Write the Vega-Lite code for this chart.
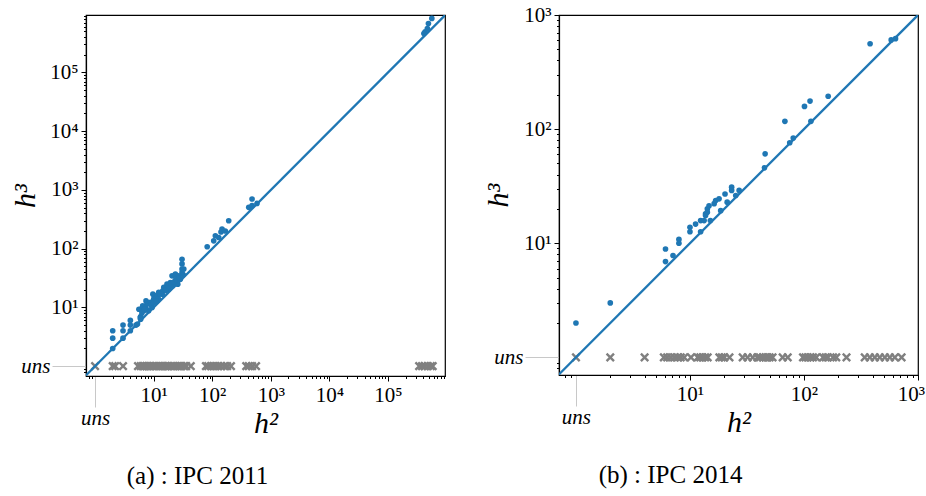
{
  "$schema": "https://vega.github.io/schema/vega-lite/v6.json",
  "background": "white",
  "padding": {"left": 10, "top": 3, "right": 0, "bottom": 0},
  "spacing": 114,
  "bounds": "flush",
  "config": {
    "font": "Liberation Serif",
    "view": {"stroke": "black", "strokeWidth": 1.2},
    "axis": {
      "grid": false,
      "domainColor": "black",
      "domainWidth": 1.2,
      "labelFont": "Liberation Serif",
      "labelFontSize": 21,
      "labelColor": "black",
      "titleFont": "Liberation Serif",
      "titleFontSize": 30,
      "titleFontStyle": "italic",
      "titleFontWeight": "normal",
      "titleColor": "black",
      "labelOverlap": false,
      "labelFlush": false
    },
    "title": {"font": "Liberation Serif", "fontSize": 25, "fontWeight": "normal", "color": "black"}
  },
  "datasets": {
    "a_pts": [
      {"h2": 2, "h3": 2}, {"h2": 2, "h3": 3}, {"h2": 2, "h3": 4}, {"h2": 3, "h3": 3}, {"h2": 3, "h3": 4}, {"h2": 3, "h3": 5},
      {"h2": 4, "h3": 4}, {"h2": 4, "h3": 5}, {"h2": 4, "h3": 6}, {"h2": 5, "h3": 5}, {"h2": 5.3, "h3": 5.2}, {"h2": 6, "h3": 7},
      {"h2": 6, "h3": 6.3}, {"h2": 5.6, "h3": 9.3}, {"h2": 5.9, "h3": 6.7}, {"h2": 6.1, "h3": 9.4}, {"h2": 6.5, "h3": 10.6},
      {"h2": 6.8, "h3": 8.8}, {"h2": 7.2, "h3": 10}, {"h2": 7.4, "h3": 12.9}, {"h2": 7.7, "h3": 11.4}, {"h2": 7.9, "h3": 12.1},
      {"h2": 8.2, "h3": 8.8}, {"h2": 8.8, "h3": 12.2}, {"h2": 9.4, "h3": 10}, {"h2": 9.7, "h3": 16.8}, {"h2": 10, "h3": 13.8},
      {"h2": 10.7, "h3": 15.8}, {"h2": 11, "h3": 14.9}, {"h2": 11.4, "h3": 12.9}, {"h2": 11.7, "h3": 15.8}, {"h2": 12.2, "h3": 18},
      {"h2": 14, "h3": 16.8}, {"h2": 14.3, "h3": 19.2}, {"h2": 14.9, "h3": 21.9}, {"h2": 15.9, "h3": 19.2}, {"h2": 16.9, "h3": 24.9},
      {"h2": 17.4, "h3": 21.9}, {"h2": 18.1, "h3": 20.4}, {"h2": 19.3, "h3": 26.6}, {"h2": 20.6, "h3": 34.5}, {"h2": 21.2, "h3": 23.3},
      {"h2": 23.5, "h3": 36.8}, {"h2": 23.5, "h3": 28.3}, {"h2": 25.8, "h3": 24.9}, {"h2": 26.8, "h3": 34.5}, {"h2": 28.5, "h3": 30.2},
      {"h2": 30.5, "h3": 39.4}, {"h2": 30.5, "h3": 45}, {"h2": 30.5, "h3": 55}, {"h2": 30.5, "h3": 66}, {"h2": 32.7, "h3": 45},
      {"h2": 32, "h3": 36}, {"h2": 8, "h3": 9}, {"h2": 9, "h3": 11}, {"h2": 12, "h3": 14}, {"h2": 13, "h3": 17}, {"h2": 16, "h3": 20},
      {"h2": 18, "h3": 23}, {"h2": 20, "h3": 25}, {"h2": 22, "h3": 27}, {"h2": 24, "h3": 30}, {"h2": 27, "h3": 32}, {"h2": 6.3, "h3": 8},
      {"h2": 7, "h3": 9.5}, {"h2": 10, "h3": 12}, {"h2": 11, "h3": 13},
      {"h2": 82, "h3": 108}, {"h2": 106, "h3": 136}, {"h2": 113, "h3": 166}, {"h2": 129, "h3": 155}, {"h2": 141, "h3": 192},
      {"h2": 147, "h3": 216}, {"h2": 167, "h3": 200}, {"h2": 191, "h3": 299}, {"h2": 420, "h3": 505}, {"h2": 478, "h3": 540},
      {"h2": 478, "h3": 700}, {"h2": 580, "h3": 590},
      {"h2": 430000, "h3": 490000}, {"h2": 410000, "h3": 460000}, {"h2": 470000, "h3": 560000}, {"h2": 490000, "h3": 680000},
      {"h2": 560000, "h3": 830000}
    ],
    "a_uns": [
      {"h2": 1}, {"h2": 2}, {"h2": 2.2}, {"h2": 3}, {"h2": 5.4}, {"h2": 6}, {"h2": 6.5}, {"h2": 7}, {"h2": 7.5}, {"h2": 8},
      {"h2": 8.5}, {"h2": 9}, {"h2": 10}, {"h2": 11}, {"h2": 12}, {"h2": 13}, {"h2": 14}, {"h2": 15}, {"h2": 16}, {"h2": 17},
      {"h2": 18}, {"h2": 20}, {"h2": 22}, {"h2": 24}, {"h2": 26}, {"h2": 28}, {"h2": 30}, {"h2": 33}, {"h2": 36}, {"h2": 43},
      {"h2": 78}, {"h2": 85}, {"h2": 95}, {"h2": 105}, {"h2": 115}, {"h2": 125}, {"h2": 140}, {"h2": 160}, {"h2": 180}, {"h2": 209},
      {"h2": 380}, {"h2": 420}, {"h2": 480}, {"h2": 560},
      {"h2": 340000}, {"h2": 380000}, {"h2": 420000}, {"h2": 480000}, {"h2": 540000}, {"h2": 580000}
    ],
    "b_pts": [
      {"h2": 1, "h3": 2}, {"h2": 2, "h3": 3}, {"h2": 6.1, "h3": 8.9}, {"h2": 6.1, "h3": 6.9}, {"h2": 7.1, "h3": 7.8},
      {"h2": 8, "h3": 10.8}, {"h2": 8, "h3": 10}, {"h2": 10, "h3": 13.8}, {"h2": 10, "h3": 12.6}, {"h2": 11.2, "h3": 14.7},
      {"h2": 12.4, "h3": 15.8}, {"h2": 13.3, "h3": 15.8}, {"h2": 12.4, "h3": 12.6}, {"h2": 13.7, "h3": 18.1}, {"h2": 14.2, "h3": 20},
      {"h2": 15.1, "h3": 15.8}, {"h2": 13.7, "h3": 17.5}, {"h2": 14.2, "h3": 18.7}, {"h2": 14.7, "h3": 21.3}, {"h2": 16.3, "h3": 22.2},
      {"h2": 16.8, "h3": 23.7}, {"h2": 18, "h3": 24.5}, {"h2": 18.6, "h3": 19.3}, {"h2": 20.3, "h3": 27}, {"h2": 21.2, "h3": 22.9},
      {"h2": 23.2, "h3": 31}, {"h2": 23.2, "h3": 29}, {"h2": 25.2, "h3": 26.2}, {"h2": 27, "h3": 29}, {"h2": 45.6, "h3": 60.7},
      {"h2": 45, "h3": 45.8}, {"h2": 68, "h3": 117}, {"h2": 75, "h3": 76}, {"h2": 80.5, "h3": 83.5}, {"h2": 101, "h3": 158},
      {"h2": 113, "h3": 176}, {"h2": 115, "h3": 117}, {"h2": 163, "h3": 194}, {"h2": 380, "h3": 560}, {"h2": 582, "h3": 605},
      {"h2": 635, "h3": 620}
    ],
    "b_uns": [
      {"h2": 1}, {"h2": 2}, {"h2": 4}, {"h2": 5.9}, {"h2": 6.3}, {"h2": 6.8}, {"h2": 7.3}, {"h2": 7.8}, {"h2": 8.3}, {"h2": 8.9},
      {"h2": 10.2}, {"h2": 11.7}, {"h2": 12.3}, {"h2": 12.9}, {"h2": 13.6}, {"h2": 14.3}, {"h2": 18.1}, {"h2": 19}, {"h2": 20},
      {"h2": 22.2}, {"h2": 29}, {"h2": 32}, {"h2": 35.5}, {"h2": 39}, {"h2": 41}, {"h2": 43.6}, {"h2": 46}, {"h2": 48}, {"h2": 50},
      {"h2": 53}, {"h2": 65}, {"h2": 72}, {"h2": 98}, {"h2": 103}, {"h2": 108}, {"h2": 114}, {"h2": 120}, {"h2": 128}, {"h2": 147},
      {"h2": 155}, {"h2": 162}, {"h2": 180}, {"h2": 192}, {"h2": 236}, {"h2": 341}, {"h2": 378}, {"h2": 418}, {"h2": 462},
      {"h2": 512}, {"h2": 566}, {"h2": 626}, {"h2": 718}
    ],
    "a_diag": [{"v": 0.5}, {"v": 2000000}],
    "b_diag": [{"v": 0.5}, {"v": 2000}]
  },
  "hconcat": [
    {
      "width": 359,
      "height": 361,
      "title": {"text": "(a) : IPC 2011", "orient": "bottom", "dx": -68, "offset": 26},
      "layer": [
        {
          "mark": {"type": "rule", "color": "#808080", "strokeWidth": 1.3},
          "encoding": {"x": {"datum": 1, "type": "quantitative"}}
        },
        {
          "mark": {"type": "rule", "color": "#808080", "strokeWidth": 1.3},
          "encoding": {"y": {"datum": 1, "type": "quantitative"}}
        },
        {
          "data": {"name": "a_uns"},
          "mark": {"type": "point", "shape": "M-1,-1L1,1M-1,1L1,-1", "filled": false, "stroke": "#808080", "strokeWidth": 2.4, "size": 55, "opacity": 1},
          "encoding": {"x": {"field": "h2", "type": "quantitative"}, "y": {"datum": 1, "type": "quantitative"}}
        },
        {
          "data": {"name": "a_diag"},
          "mark": {"type": "line", "color": "#1f77b4", "strokeWidth": 2.3, "clip": true},
          "encoding": {"x": {"field": "v", "type": "quantitative"}, "y": {"field": "v", "type": "quantitative"}}
        },
        {
          "data": {"name": "a_pts"},
          "mark": {"type": "circle", "color": "#1f77b4", "size": 32, "opacity": 1},
          "encoding": {
            "x": {
              "field": "h2", "type": "quantitative",
              "scale": {"type": "log", "domain": [0.7, 940000], "nice": false},
              "axis": {
                "title": "h²", "titlePadding": -20,
                "values": [0.8, 0.9, 1, 2, 3, 4, 5, 6, 7, 8, 9, 10, 20, 30, 40, 50, 60, 70, 80, 90, 100, 200, 300, 400, 500, 600, 700, 800, 900, 1000, 2000, 3000, 4000, 5000, 6000, 7000, 8000, 9000, 10000, 20000, 30000, 40000, 50000, 60000, 70000, 80000, 90000, 100000, 200000, 300000, 400000, 500000, 600000, 700000, 800000, 900000],
                "labelExpr": "datum.value == 1 ? 'uns' : (abs(log(datum.value)/LN10 - round(log(datum.value)/LN10)) < 1e-6 ? '10' + ['⁰','¹','²','³','⁴','⁵','⁶'][round(log(datum.value)/LN10)] : '')",
                "labelFontStyle": {"condition": {"test": "datum.value == 1", "value": "italic"}, "value": "normal"},
                "labelPadding": {"condition": {"test": "datum.value == 1", "value": 0}, "value": 3},
                "tickSize": {"condition": [{"test": "datum.value == 1", "value": 31}, {"test": "abs(log(datum.value)/LN10 - round(log(datum.value)/LN10)) < 1e-6", "value": 5}], "value": 2.5},
                "tickColor": {"condition": {"test": "datum.value == 1", "value": "#c8c8c8"}, "value": "black"}
              }
            },
            "y": {
              "field": "h3", "type": "quantitative",
              "scale": {"type": "log", "domain": [0.68, 950000], "nice": false},
              "axis": {
                "title": "h³", "titlePadding": -20,
                "values": [0.8, 0.9, 1, 2, 3, 4, 5, 6, 7, 8, 9, 10, 20, 30, 40, 50, 60, 70, 80, 90, 100, 200, 300, 400, 500, 600, 700, 800, 900, 1000, 2000, 3000, 4000, 5000, 6000, 7000, 8000, 9000, 10000, 20000, 30000, 40000, 50000, 60000, 70000, 80000, 90000, 100000, 200000, 300000, 400000, 500000, 600000, 700000, 800000, 900000],
                "labelExpr": "datum.value == 1 ? 'uns' : (abs(log(datum.value)/LN10 - round(log(datum.value)/LN10)) < 1e-6 ? '10' + ['⁰','¹','²','³','⁴','⁵','⁶'][round(log(datum.value)/LN10)] : '')",
                "labelFontStyle": {"condition": {"test": "datum.value == 1", "value": "italic"}, "value": "normal"},
                "labelPadding": {"condition": {"test": "datum.value == 1", "value": 2}, "value": 3},
                "tickSize": {"condition": [{"test": "datum.value == 1", "value": 34}, {"test": "abs(log(datum.value)/LN10 - round(log(datum.value)/LN10)) < 1e-6", "value": 5}], "value": 2.5},
                "tickColor": {"condition": {"test": "datum.value == 1", "value": "#c8c8c8"}, "value": "black"}
              }
            }
          }
        }
      ]
    },
    {
      "width": 359,
      "height": 360,
      "title": {"text": "(b) : IPC 2014", "orient": "bottom", "dx": -68, "offset": 26},
      "layer": [
        {
          "mark": {"type": "rule", "color": "#808080", "strokeWidth": 1.3},
          "encoding": {"x": {"datum": 1, "type": "quantitative"}}
        },
        {
          "mark": {"type": "rule", "color": "#808080", "strokeWidth": 1.3},
          "encoding": {"y": {"datum": 1, "type": "quantitative"}}
        },
        {
          "data": {"name": "b_uns"},
          "mark": {"type": "point", "shape": "M-1,-1L1,1M-1,1L1,-1", "filled": false, "stroke": "#808080", "strokeWidth": 2.4, "size": 55, "opacity": 1},
          "encoding": {"x": {"field": "h2", "type": "quantitative"}, "y": {"datum": 1, "type": "quantitative"}}
        },
        {
          "data": {"name": "b_diag"},
          "mark": {"type": "line", "color": "#1f77b4", "strokeWidth": 2.3, "clip": true},
          "encoding": {"x": {"field": "v", "type": "quantitative"}, "y": {"field": "v", "type": "quantitative"}}
        },
        {
          "data": {"name": "b_pts"},
          "mark": {"type": "circle", "color": "#1f77b4", "size": 32, "opacity": 1},
          "encoding": {
            "x": {
              "field": "h2", "type": "quantitative",
              "scale": {"type": "log", "domain": [0.71, 1000], "nice": false},
              "axis": {
                "title": "h²", "titlePadding": -20,
                "values": [0.8, 0.9, 1, 2, 3, 4, 5, 6, 7, 8, 9, 10, 20, 30, 40, 50, 60, 70, 80, 90, 100, 200, 300, 400, 500, 600, 700, 800, 900, 1000],
                "labelExpr": "datum.value == 1 ? 'uns' : (abs(log(datum.value)/LN10 - round(log(datum.value)/LN10)) < 1e-6 ? '10' + ['⁰','¹','²','³','⁴','⁵','⁶'][round(log(datum.value)/LN10)] : '')",
                "labelFontStyle": {"condition": {"test": "datum.value == 1", "value": "italic"}, "value": "normal"},
                "labelPadding": {"condition": {"test": "datum.value == 1", "value": 0}, "value": 3},
                "labelOffset": {"condition": {"test": "datum.value == 1000", "value": -7}, "value": 0},
                "tickSize": {"condition": [{"test": "datum.value == 1", "value": 31}, {"test": "abs(log(datum.value)/LN10 - round(log(datum.value)/LN10)) < 1e-6", "value": 5}], "value": 2.5},
                "tickColor": {"condition": {"test": "datum.value == 1", "value": "#c8c8c8"}, "value": "black"}
              }
            },
            "y": {
              "field": "h3", "type": "quantitative",
              "scale": {"type": "log", "domain": [0.7, 1000], "nice": false},
              "axis": {
                "title": "h³", "titlePadding": -20,
                "values": [0.8, 0.9, 1, 2, 3, 4, 5, 6, 7, 8, 9, 10, 20, 30, 40, 50, 60, 70, 80, 90, 100, 200, 300, 400, 500, 600, 700, 800, 900, 1000],
                "labelExpr": "datum.value == 1 ? 'uns' : (abs(log(datum.value)/LN10 - round(log(datum.value)/LN10)) < 1e-6 ? '10' + ['⁰','¹','²','³','⁴','⁵','⁶'][round(log(datum.value)/LN10)] : '')",
                "labelFontStyle": {"condition": {"test": "datum.value == 1", "value": "italic"}, "value": "normal"},
                "labelPadding": {"condition": {"test": "datum.value == 1", "value": 2}, "value": 3},
                "tickSize": {"condition": [{"test": "datum.value == 1", "value": 34}, {"test": "abs(log(datum.value)/LN10 - round(log(datum.value)/LN10)) < 1e-6", "value": 5}], "value": 2.5},
                "tickColor": {"condition": {"test": "datum.value == 1", "value": "#c8c8c8"}, "value": "black"}
              }
            }
          }
        }
      ]
    }
  ]
}
